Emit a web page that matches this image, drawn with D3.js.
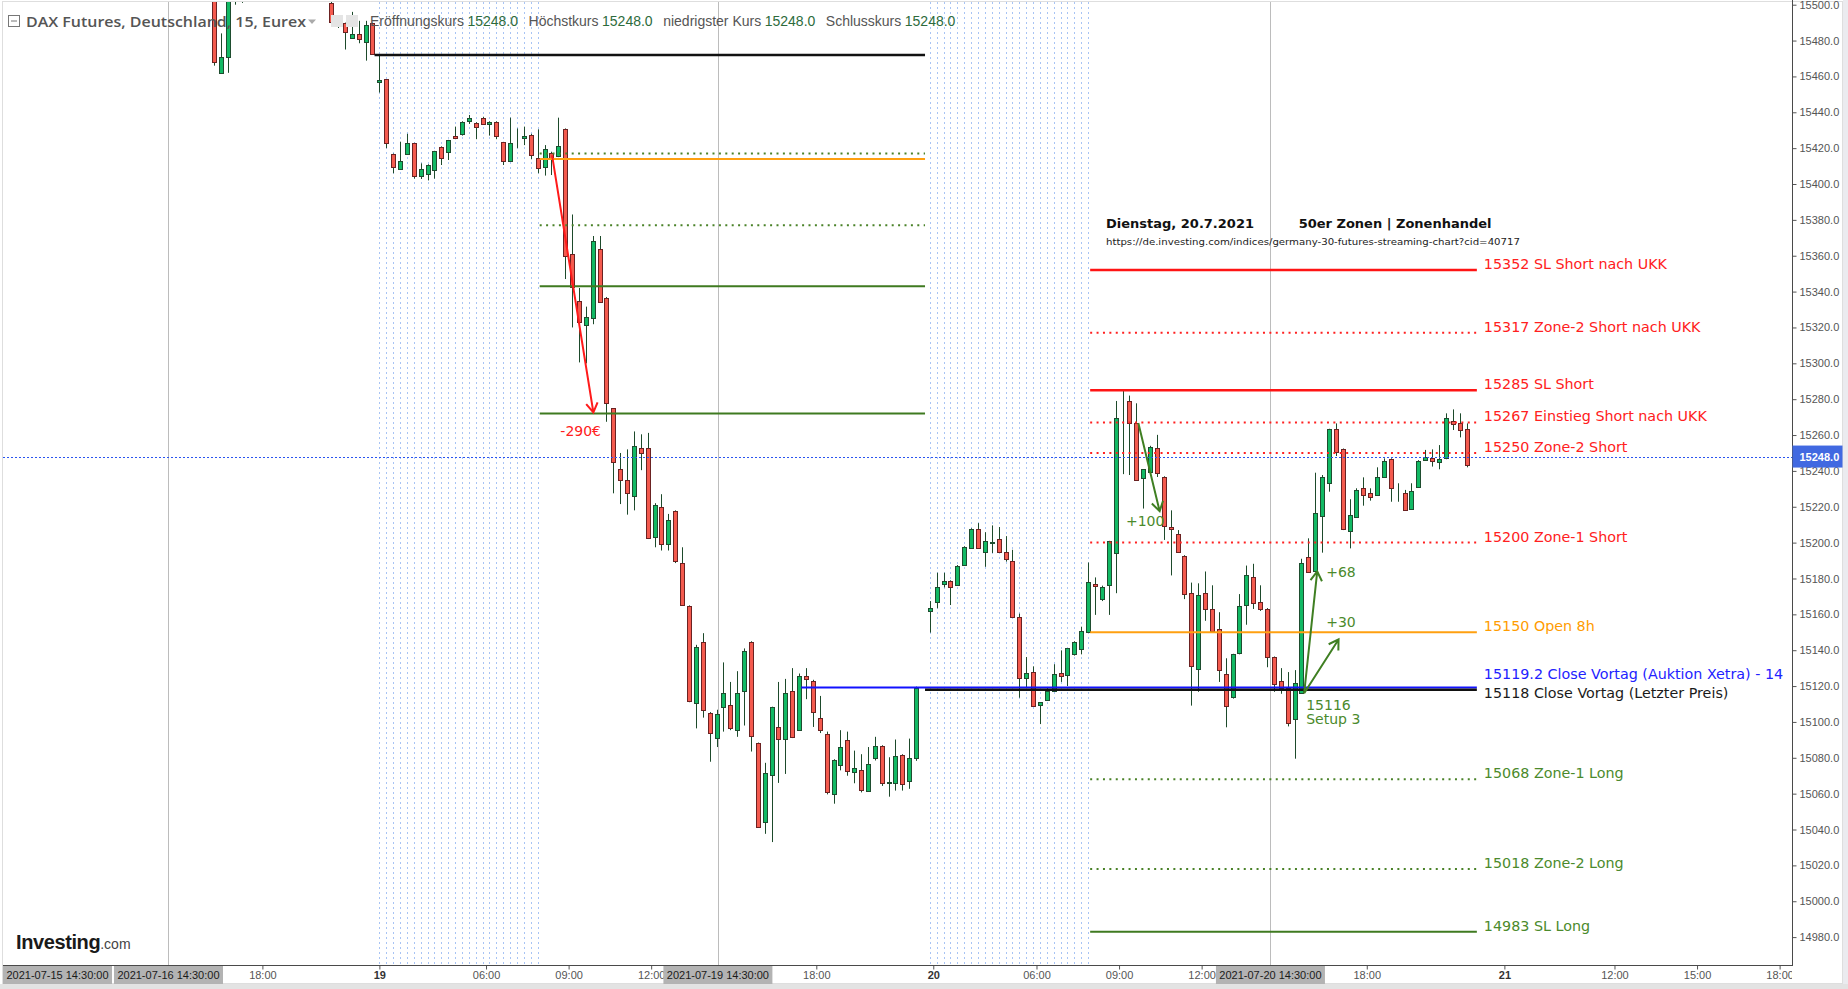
<!DOCTYPE html>
<html lang="de">
<head>
<meta charset="UTF-8">
<script src="https://d3js.org/d3.v7.min.js"></script>
<title>DAX Futures 15 - Zonenhandel</title>
<style>
  body { margin: 0; background: #fff; }
  svg { display: block; }
  text { font-family: "DejaVu Sans", Verdana, sans-serif; }
  .axis text { font-family: "Liberation Sans", Arial, sans-serif; font-size: 11px; fill: #555; }
  .axis line { stroke: #555; }
</style>
</head>
<body>
<script>
// bars: [bar index, open, high, low, close]  (15 min, index 0 = 2021-07-16 14:30)
const bars16 = [
  [6, 15515, 15522, 15466, 15468], [7, 15462, 15484, 15461.5, 15471], [8, 15471, 15515, 15462, 15510],
  [9, 15505, 15525, 15500, 15520], [10, 15510, 15525, 15501, 15518],
  [23, 15501, 15504, 15490, 15490.5], [24, 15491.5, 15492, 15487, 15488], [25, 15489.6, 15490, 15475, 15484.4],
  [26, 15481.3, 15496, 15481, 15483.7], [27, 15483.7, 15491, 15478.5, 15480.8], [28, 15479.4, 15491, 15468.8, 15488.7],
  [29, 15489.6, 15490, 15472, 15472.5]
]
const bars19 = [
  [30, 15457, 15472, 15451, 15458], [31, 15458.4, 15458.5, 15420, 15422.7], [32, 15416.6, 15417, 15406, 15409.3],
  [33, 15408.2, 15423.6, 15408, 15412.7], [34, 15416.6, 15428, 15416.5, 15422.7], [35, 15422.7, 15423, 15403, 15404.1],
  [36, 15404.5, 15411.5, 15402.8, 15408.2], [37, 15405.4, 15411, 15402, 15410.4], [38, 15407.8, 15418.5, 15403, 15418.2],
  [39, 15420.5, 15421, 15410.6, 15414.1], [40, 15417.7, 15424.6, 15413.4, 15424.4], [41, 15426.8, 15432, 15425, 15425.5],
  [42, 15427.5, 15435, 15427, 15434.4], [43, 15435.3, 15438.5, 15433.5, 15436.7], [44, 15434.2, 15434.5, 15425, 15432],
  [45, 15436.7, 15437.5, 15433, 15433.3], [46, 15433.3, 15435, 15427, 15434.4], [47, 15434.4, 15435, 15425, 15426.8],
  [48, 15423.3, 15423.5, 15410.6, 15412.7], [49, 15412.7, 15437, 15412.5, 15422.7], [50, 15425.5, 15431, 15420, 15425.6],
  [51, 15425.5, 15432, 15421.7, 15426.8], [52, 15427.5, 15428, 15413.8, 15416.3], [53, 15414.5, 15430.5, 15406, 15409.1],
  [54, 15409.1, 15421.7, 15404.7, 15419.3], [55, 15417.5, 15418, 15405, 15414.5], [56, 15415.2, 15437, 15415, 15421],
  [57, 15430.6, 15431, 15347, 15359.6], [58, 15360.7, 15383, 15320, 15342.5], [59, 15334.7, 15342, 15300.5, 15322.8],
  [60, 15321.5, 15331.6, 15300, 15325.7], [61, 15325.7, 15371, 15321.8, 15368.4], [62, 15363.5, 15371, 15334, 15334.2],
  [63, 15336.6, 15337, 15267.4, 15277.8], [64, 15274.9, 15275, 15227.5, 15244.8], [65, 15241, 15250, 15221.5, 15235],
  [66, 15235, 15252, 15215.6, 15227.5], [67, 15226, 15262, 15218, 15253.9], [68, 15252.6, 15260.4, 15240.4, 15249.8],
  [69, 15252.6, 15261.2, 15202, 15202.4], [70, 15202.9, 15222, 15197.4, 15221], [71, 15219.7, 15227, 15195.6, 15199],
  [72, 15199, 15216, 15195.6, 15212.5], [73, 15217.6, 15218, 15188.6, 15189.7], [74, 15188.6, 15197.4, 15165, 15165],
  [75, 15164.8, 15165, 15111, 15112], [76, 15111, 15143, 15096.4, 15142], [77, 15144.6, 15149.5, 15102.4, 15106.8],
  [78, 15105.2, 15105.5, 15077.8, 15094.3], [79, 15090.7, 15106.8, 15086, 15104.2], [80, 15108.3, 15133.2, 15094.6, 15116.1],
  [81, 15109.4, 15122.3, 15095.4, 15096.4], [82, 15095.4, 15128.3, 15091.7, 15116.1], [83, 15117.1, 15141, 15098, 15139.4],
  [84, 15144.6, 15145, 15083.5, 15092], [85, 15088.1, 15088.5, 15041, 15041.5], [86, 15044.1, 15077.2, 15037.6, 15071.3],
  [87, 15070, 15108.5, 15033, 15108.1], [88, 15096.9, 15122.3, 15066, 15090.4], [89, 15090.2, 15124, 15071, 15116.1],
  [90, 15117.1, 15130, 15091, 15091.7], [91, 15095.4, 15127, 15095, 15125.6], [92, 15125.6, 15130, 15112.7, 15124.1],
  [93, 15123.1, 15123.5, 15097.2, 15105.7], [94, 15102.1, 15114.5, 15093.8, 15095.4], [95, 15093.3, 15094.6, 15059.6, 15060.9],
  [96, 15060.1, 15079.2, 15054.4, 15079], [97, 15075.7, 15095.4, 15073, 15086], [98, 15090.2, 15094.6, 15070, 15073.1],
  [99, 15072, 15084, 15065.8, 15074.1], [100, 15073.1, 15082, 15060.7, 15061.7], [101, 15061.4, 15086, 15061, 15076.7],
  [102, 15080.3, 15091.7, 15078.5, 15086.8], [103, 15086.8, 15087, 15064.3, 15066.1], [104, 15066.1, 15080.3, 15058.3, 15066.4],
  [105, 15066.1, 15090.2, 15061.7, 15080.9], [106, 15081.6, 15082, 15061.7, 15065.3], [107, 15067.1, 15090.7, 15062.7, 15080],
  [108, 15080.3, 15119.7, 15078.3, 15119.2]
]
const bars20 = [
  [110, 15161.9, 15167.4, 15149.8, 15163.6], [111, 15167, 15183.2, 15163.4, 15175.1], [112, 15176.8, 15183.2, 15175, 15178.4],
  [113, 15178.4, 15179, 15165.2, 15175.1], [114, 15176.8, 15187.5, 15176.5, 15187.2], [115, 15187.2, 15198, 15187, 15197.5],
  [116, 15197.1, 15208, 15197, 15207.6], [117, 15207.6, 15210.9, 15197, 15197.1], [118, 15194.9, 15205.8, 15186.5, 15200.8],
  [119, 15199.9, 15209.6, 15194.2, 15200.2], [120, 15201.9, 15208.7, 15194.2, 15194.9], [121, 15194.9, 15203.6, 15189.4, 15191.1],
  [122, 15189.8, 15196, 15158.5, 15158.6], [123, 15158.6, 15160.4, 15113.5, 15124.5], [124, 15124.5, 15136.2, 15119, 15127.2],
  [125, 15127.8, 15131, 15109, 15109.1], [126, 15109.1, 15111, 15098.8, 15110.9], [127, 15112.4, 15119.5, 15112, 15117.3],
  [128, 15117.3, 15132.2, 15117, 15126.7], [129, 15127.2, 15139.9, 15122.3, 15125.6], [130, 15126, 15141, 15120, 15141],
  [131, 15137.7, 15145, 15137, 15144.3], [132, 15141, 15153.1, 15137.7, 15150.9], [133, 15150.2, 15188.9, 15150, 15177.9],
  [134, 15176.8, 15180.6, 15159.7, 15175.5], [135, 15168.5, 15176, 15167.4, 15175.1], [136, 15176.2, 15201, 15159.7, 15200.8],
  [137, 15194.2, 15279, 15171.8, 15269.6], [138, 15273.8, 15285, 15238.2, 15274], [139, 15278.8, 15282, 15237.7, 15266.3],
  [140, 15266.7, 15277.7, 15235, 15235.1], [141, 15236, 15241, 15219, 15240.8], [142, 15239.9, 15254, 15239, 15253.6],
  [143, 15252.7, 15260.1, 15236.6, 15238.8], [144, 15236.6, 15237, 15201.5, 15209.1], [145, 15208.5, 15218, 15181.7, 15207.4],
  [146, 15204.7, 15207, 15194.5, 15194.9], [147, 15192.7, 15193, 15168.5, 15171.3], [148, 15171.8, 15177.7, 15109.1, 15131.1],
  [149, 15129.6, 15177.3, 15116.8, 15170.7], [150, 15171.8, 15183.9, 15156.4, 15163], [151, 15163, 15176.2, 15150.5, 15150.9],
  [152, 15152, 15161.2, 15122.3, 15129.4], [153, 15126.7, 15135.5, 15097, 15109.1], [154, 15113.5, 15138, 15113, 15137.7],
  [155, 15138.4, 15171.3, 15137.7, 15164.8], [156, 15165.2, 15187.2, 15154.2, 15181.7], [157, 15180.6, 15188.2, 15163, 15166.3],
  [158, 15166.9, 15176.2, 15161.9, 15163], [159, 15163, 15163.5, 15130.5, 15136], [160, 15136.2, 15136.5, 15116.8, 15121.2],
  [161, 15123, 15130, 15115.7, 15119], [162, 15119, 15127.8, 15097.5, 15099.3], [163, 15101.5, 15128.9, 15079.5, 15121.7],
  [164, 15116, 15191, 15116, 15188.7], [165, 15192.2, 15202.4, 15183.5, 15183.8], [166, 15183.8, 15239, 15183.5, 15216.3],
  [167, 15215, 15237.7, 15194.4, 15236.8], [168, 15233.1, 15263.5, 15228.4, 15263.2], [169, 15263.2, 15266.5, 15248.3, 15250.2],
  [170, 15252, 15252.5, 15207, 15207.4], [171, 15206.5, 15224.2, 15196.8, 15215.4], [172, 15214.1, 15230.3, 15214, 15229.4],
  [173, 15230.3, 15236.4, 15220.6, 15226.2], [174, 15227.5, 15230.3, 15223.4, 15225.3], [175, 15226.2, 15242, 15226, 15236.4],
  [176, 15236.8, 15247, 15236.5, 15245.5], [177, 15246.6, 15247, 15222.8, 15230.3], [178, 15227.5, 15233.1, 15222.8, 15227.6],
  [179, 15227.5, 15229.4, 15218, 15218.2], [180, 15219.1, 15233.1, 15219, 15229], [181, 15231.2, 15246, 15231, 15245.5],
  [182, 15246.5, 15251.7, 15246, 15247.9], [183, 15247, 15252, 15242.4, 15245.1], [184, 15245.1, 15254.4, 15240.9, 15246.5],
  [185, 15247, 15272.1, 15246.5, 15269.3], [186, 15268, 15274.3, 15262.8, 15266.5], [187, 15266.9, 15272.1, 15258.7, 15263.2],
  [188, 15263.2, 15266.5, 15242, 15243]
]

const lastPrice = 15248
const ohlcLabels = ['Eröffnungskurs', 'Höchstkurs', 'niedrigster Kurs', 'Schlusskurs']
const ohlcValues = [15248.0, 15248.0, 15248.0, 15248.0]

// time axis
const timeTickIdx = [13, 30, 45.5, 57.5, 69.5, 93.5, 110.5, 125.5, 137.5, 149.5, 173.5, 193.5, 209.5, 221.5, 233.5]
const timeTickLabels = ['18:00', '19', '06:00', '09:00', '12:00', '18:00', '20', '06:00', '09:00', '12:00', '18:00', '21', '12:00', '15:00', '18:00']
const sessionIdx = [-80, -0.65, 79.2, 159.5]
const sessionLabels = ['2021-07-15 14:30:00', '2021-07-16 14:30:00', '2021-07-19 14:30:00', '2021-07-20 14:30:00']
const preMarket = [[30, 53], [110, 133]]

// levels on the 19th
const leftValues = [15472, 15417, 15414, 15377, 15343, 15272]
const leftKinds = ['black', 'greenDot', 'orange', 'greenDot', 'green', 'green']
const leftFrom = [29.3, 53.3, 53.3, 53.3, 53.3, 53.3]
const leftTo = 109.3

// zones for the 20th
const zoneValues = [15352, 15317, 15285, 15267, 15250, 15200, 15150, 15119.2, 15118, 15068, 15018, 14983]
const zoneLabels = ['15352 SL Short nach UKK', '15317 Zone-2 Short nach UKK', '15285 SL Short', '15267 Einstieg Short nach UKK',
  '15250 Zone-2 Short', '15200 Zone-1 Short', '15150 Open 8h', '15119.2 Close Vortag (Auktion Xetra) - 14',
  '15118 Close Vortag (Letzter Preis)', '15068 Zone-1 Long', '15018 Zone-2 Long', '14983 SL Long']
const zoneKinds = ['red', 'redDot', 'red', 'redDot', 'redDot', 'redDot', 'orange', 'blue', 'black', 'greenDot', 'greenDot', 'green']
const zoneFrom = [133.3, 133.3, 133.3, 133.3, 133.3, 133.3, 133.3, 91.3, 109.3, 133.3, 133.3, 133.3]
const zoneTo = 189.5

// arrows [from idx, from price, to idx, to price]
const arrows = [[55.1, 15416, 61.1, 15272.6], [140.3, 15266.7, 143.4, 15217.5], [164.4, 15116, 166.3, 15184], [164.4, 15116, 169.4, 15146]]
const arrowKinds = ['red', 'green', 'green', 'green']
// notes [text, idx, price]
const notes = [['-290€', 56.3, 15262.2], ['+100', 138.5, 15211.8], ['+68', 167.6, 15183.6], ['+30', 167.6, 15155.7],
  ['15116', 164.7, 15109.3], ['Setup 3', 164.7, 15101.6]]
const noteKinds = ['red', 'green', 'green', 'green', 'green', 'green']
const headNotes = [['Dienstag, 20.7.2021', 135.6, 15377.7], ['50er Zonen | Zonenhandel', 163.6, 15377.7]]
const urlNote = ['https://de.investing.com/indices/germany-30-futures-streaming-chart?cid=40717', 135.6, 15367.5]

const styles = {
  red: { stroke: '#ff1414', width: 2.5, dash: null, text: '#ff2020' },
  redDot: { stroke: '#ff2020', width: 2, dash: '2,4.4', text: '#ff2020' },
  orange: { stroke: '#ffa010', width: 2, dash: null, text: '#ff9c00' },
  blue: { stroke: '#1212ff', width: 2, dash: null, text: '#2222ff' },
  black: { stroke: '#111', width: 2.5, dash: null, text: '#1a1a1a' },
  greenDot: { stroke: '#4a8228', width: 2, dash: '2,4.4', text: '#4b8a2c' },
  green: { stroke: '#3f7a20', width: 2, dash: null, text: '#4b8a2c' }
}

const W = 1848, H = 989
const plotL = 3, plotR = 1792, plotT = 2, plotB = 965

const svg = d3.select('body').append('svg').attr('width', W).attr('height', H)

const x = d3.scaleLinear().domain([-24.7, 235.3]).range([plotL, plotR])
const y = d3.scaleLinear().domain([14980, 15500]).range([937.1, 4.7])
const px = v => Math.round(x(v)) + 0.5
const py = v => Math.round(y(v)) + 0.5

const defs = svg.append('defs')
defs.append('clipPath').attr('id', 'plotClip')
  .append('rect').attr('x', plotL).attr('y', plotT).attr('width', plotR - plotL).attr('height', plotB - plotT)
defs.append('clipPath').attr('id', 'xClip').append('rect')
  .attr('x', plotL).attr('y', plotB).attr('width', plotR - plotL).attr('height', 20)

// frame + gray strips
svg.append('rect').attr('x', 1843).attr('y', 0).attr('width', 5).attr('height', H).attr('fill', '#ebebef')
svg.append('rect').attr('x', 0).attr('y', 984).attr('width', W).attr('height', 5).attr('fill', '#e3e3e3')
svg.append('rect').attr('x', 2.5).attr('y', 1.5).attr('width', 1840).attr('height', 982)
  .attr('fill', 'none').attr('stroke', '#dedede')

const plot = svg.append('g').attr('clip-path', 'url(#plotClip)')

// pre-market dotted verticals
const preIdx = preMarket.flatMap(([a, b]) => d3.range(a, b + 1))
plot.selectAll('line.pre').data(preIdx).join('line').attr('class', 'pre')
  .attr('x1', px).attr('x2', px).attr('y1', plotT).attr('y2', plotB)
  .attr('stroke', '#a8c4f4').attr('stroke-dasharray', '2,3')

// session lines (14:30)
plot.selectAll('line.sess').data(sessionIdx).join('line').attr('class', 'sess')
  .attr('x1', px).attr('x2', px).attr('y1', plotT).attr('y2', plotB)
  .attr('stroke', '#bcbcbc')

// candles
const allBars = bars16.concat(bars19, bars20)
const candles = plot.append('g')
candles.selectAll('line').data(allBars).join('line')
  .attr('x1', d => px(d[0])).attr('x2', d => px(d[0]))
  .attr('y1', d => y(d[2])).attr('y2', d => y(d[3]))
  .attr('stroke', '#1d4a2b')
candles.selectAll('rect').data(allBars).join('rect')
  .attr('x', d => Math.round(x(d[0])) - 1.5).attr('width', 4)
  .attr('y', d => Math.round(y(Math.max(d[1], d[4]))) + 0.5)
  .attr('height', d => Math.round(Math.abs(y(d[1]) - y(d[4]))))
  .attr('fill', d => d[4] >= d[1] ? '#12b964' : '#f45a4e')
  .attr('stroke', d => d[4] >= d[1] ? '#1e4d2f' : '#6b2222')

// level lines
function drawLevels(values, kinds, from, to) {
  plot.append('g').selectAll('line').data(values).join('line')
    .attr('x1', (d, i) => x(from[i])).attr('x2', x(to))
    .attr('y1', d => y(d)).attr('y2', d => y(d))
    .attr('stroke', (d, i) => styles[kinds[i]].stroke)
    .attr('stroke-width', (d, i) => styles[kinds[i]].width)
    .attr('stroke-dasharray', (d, i) => styles[kinds[i]].dash)
}
drawLevels(leftValues, leftKinds, leftFrom, leftTo)
drawLevels(zoneValues, zoneKinds, zoneFrom, zoneTo)

// current price line
plot.append('line').attr('x1', plotL).attr('x2', plotR).attr('y1', py(lastPrice)).attr('y2', py(lastPrice))
  .attr('stroke', '#2a55f0').attr('stroke-dasharray', '2,2')

// zone labels, pushed apart when two lines are too close
const labelY = zoneValues.map(v => y(v) - 6)
for (let k = 1; k < labelY.length; k++) {
  if (labelY[k] - labelY[k - 1] < 18) {
    const m = (labelY[k] + labelY[k - 1]) / 2
    labelY[k - 1] = m - 9
    labelY[k] = m + 10.5
  }
}
plot.append('g').selectAll('text').data(zoneLabels).join('text')
  .attr('x', x(zoneTo) + 7).attr('y', (d, i) => labelY[i])
  .attr('dominant-baseline', 'central')
  .attr('font-size', '14.3px')
  .attr('fill', (d, i) => styles[zoneKinds[i]].text)
  .text(d => d)

// arrows
function arrowPath(a) {
  const x1 = x(a[0]), y1 = y(a[1]), x2 = x(a[2]), y2 = y(a[3])
  const ang = Math.atan2(y2 - y1, x2 - x1), L = 11, s = 0.55
  const p1 = [x2 - L * Math.cos(ang - s), y2 - L * Math.sin(ang - s)]
  const p2 = [x2 - L * Math.cos(ang + s), y2 - L * Math.sin(ang + s)]
  return `M${x1},${y1}L${x2},${y2}M${p1}L${x2},${y2}L${p2}`
}
plot.append('g').selectAll('path').data(arrows).join('path')
  .attr('d', arrowPath).attr('fill', 'none')
  .attr('stroke', (d, i) => arrowKinds[i] === 'red' ? '#ff1a1a' : '#3f7f22')
  .attr('stroke-width', 2).attr('stroke-linejoin', 'miter')

plot.append('g').selectAll('text').data(notes).join('text')
  .attr('x', d => x(d[1])).attr('y', d => y(d[2]))
  .attr('dominant-baseline', 'central').attr('font-size', '14px')
  .attr('fill', (d, i) => styles[noteKinds[i]].text)
  .text(d => d[0])

plot.append('g').selectAll('text').data(headNotes).join('text')
  .attr('x', d => x(d[1])).attr('y', d => y(d[2]))
  .attr('dominant-baseline', 'central').attr('font-size', '13px').attr('font-weight', 'bold')
  .attr('fill', '#111').text(d => d[0])
plot.append('text').attr('x', x(urlNote[1])).attr('y', y(urlNote[2]))
  .attr('dominant-baseline', 'central').attr('font-size', '9px').attr('fill', '#222')
  .attr('textLength', 414).attr('lengthAdjust', 'spacingAndGlyphs')
  .text(urlNote[0])

// y axis
const yAxis = svg.append('g').attr('class', 'axis').attr('transform', `translate(${plotR + 0.5},0)`)
  .call(d3.axisRight(y).tickValues(d3.range(14980, 15501, 20)).tickFormat(d3.format('.1f')).tickSize(4).tickPadding(3))
yAxis.select('.domain').remove()
svg.append('line').attr('x1', plotR + 0.5).attr('x2', plotR + 0.5).attr('y1', 0).attr('y2', plotB + 0.5)
  .attr('stroke', '#4a4a4a')

// price box
const pb = svg.append('g').attr('transform', `translate(${plotR + 0.5},${y(lastPrice)})`)
pb.append('rect').attr('x', 0).attr('y', -11).attr('width', 50).attr('height', 22).attr('fill', '#4169e1')
pb.append('text').attr('x', 7).attr('y', 0).attr('dominant-baseline', 'central')
  .style('font-family', '"Liberation Sans", Arial, sans-serif').attr('font-size', '11px')
  .attr('font-weight', 'bold').attr('fill', '#fff').text(d3.format('.1f')(lastPrice))

// x axis (clip applied on an untransformed wrapper)
const xWrap = svg.append('g').attr('clip-path', 'url(#xClip)')
const xAxisG = xWrap.append('g').attr('class', 'axis')
  .attr('transform', `translate(0,${plotB + 0.5})`)
  .call(d3.axisBottom(x).tickValues(timeTickIdx).tickFormat((d, i) => timeTickLabels[i]).tickSize(4).tickPadding(2))
xAxisG.select('.domain').remove()
xAxisG.selectAll('.tick text')
  .attr('font-weight', (d, i) => timeTickLabels[i].length <= 2 ? 'bold' : null)
  .style('fill', (d, i) => timeTickLabels[i].length <= 2 ? '#333' : '#555')
svg.append('line').attr('x1', plotL).attr('x2', plotR + 1).attr('y1', plotB + 0.5).attr('y2', plotB + 0.5)
  .attr('stroke', '#4a4a4a')

// session label boxes
const boxW = 109
sessionIdx.forEach((s, k) => {
  const cx = Math.max(x(s), plotL + boxW / 2)
  xWrap.append('rect').attr('x', cx - boxW / 2).attr('y', plotB + 1).attr('width', boxW).attr('height', 18)
    .attr('fill', '#b3b3b3')
  xWrap.append('text').attr('x', cx).attr('y', plotB + 10).attr('text-anchor', 'middle')
    .attr('dominant-baseline', 'central')
    .style('font-family', '"Liberation Sans", Arial, sans-serif').attr('font-size', '11px').attr('fill', '#1a1a1a')
    .text(sessionLabels[k])
})

// header
const head = svg.append('g')
head.append('rect').attr('x', 8.5).attr('y', 15.5).attr('width', 11).attr('height', 11)
  .attr('fill', '#fff').attr('stroke', '#777')
head.append('line').attr('x1', 11).attr('x2', 17).attr('y1', 21).attr('y2', 21).attr('stroke', '#777')
head.append('text').attr('x', 26).attr('y', 21).attr('dominant-baseline', 'central')
  .style('font-family', '"Open Sans", sans-serif').attr('font-size', '15px').attr('font-weight', 600)
  .attr('fill', '#555').attr('textLength', 280).attr('lengthAdjust', 'spacingAndGlyphs')
  .text('DAX Futures, Deutschland, 15, Eurex')
head.append('path').attr('d', 'M308,19.5L316,19.5L312,24Z').attr('fill', '#aaa')
head.append('rect').attr('x', 331).attr('y', 15).attr('width', 12).attr('height', 12).attr('fill', '#e4e4e4')
head.append('rect').attr('x', 346).attr('y', 15).attr('width', 12).attr('height', 12).attr('fill', '#e4e4e4')
const ohlc = head.append('text').attr('x', 370).attr('y', 21).attr('dominant-baseline', 'central')
  .style('font-family', '"Liberation Sans", Arial, sans-serif').attr('font-size', '14px')
ohlcLabels.forEach((lab, k) => {
  ohlc.append('tspan').attr('dx', k === 0 ? 0 : 10.5).attr('fill', '#555').text(lab)
  ohlc.append('tspan').attr('dx', 3.5).attr('fill', '#2d6b3c').text(d3.format('.1f')(ohlcValues[k]))
})

// logo
const logo = svg.append('text').attr('x', 16).attr('y', 949)
  .style('font-family', '"Liberation Sans", Arial, sans-serif')
logo.append('tspan').attr('font-size', '20px').attr('font-weight', 'bold').attr('fill', '#1a1a1a')
  .attr('letter-spacing', '-0.4').text('Investing')
logo.append('tspan').attr('font-size', '14px').attr('fill', '#444').text('.com')
</script>
</body>
</html>
